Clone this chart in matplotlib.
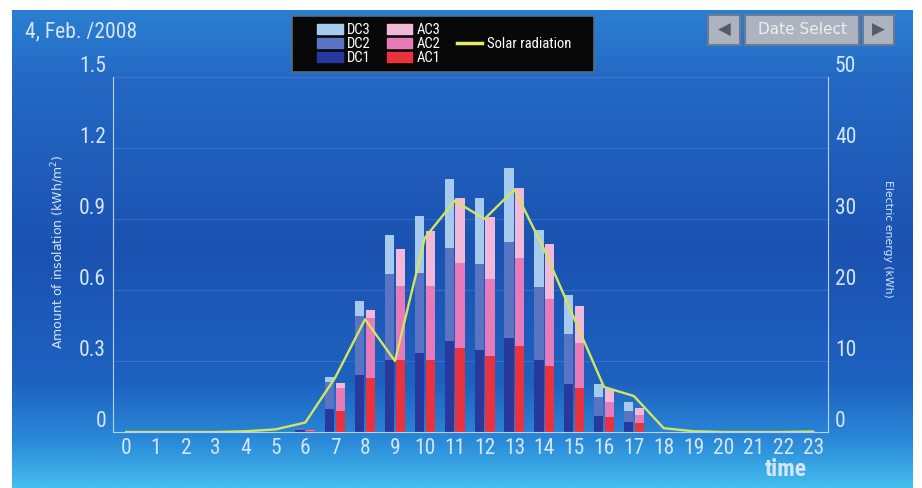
import numpy as np
import matplotlib
matplotlib.use('Agg')
import matplotlib.pyplot as plt
from matplotlib.colors import LinearSegmentedColormap
from matplotlib.patches import Patch, Rectangle
from matplotlib.lines import Line2D
from matplotlib.transforms import ScaledTranslation

# hourly data, 4 Feb 2008
hours = list(range(24))
solar = [0, 0, 0, 0, 0.003, 0.011, 0.04, 0.23, 0.476, 0.30, 0.82, 0.977,
         0.90, 1.025, 0.77, 0.48, 0.19, 0.152, 0.016, 0.003, 0, 0, 0, 0.002]
dc1 = [0, 0, 0, 0, 0, 0, 0.3, 3.3, 8.0, 10.2, 11.1, 12.8,
       11.6, 13.2, 10.1, 6.8, 2.3, 1.45, 0, 0, 0, 0, 0, 0]
dc2 = [0, 0, 0, 0, 0, 0, 0.2, 3.75, 8.3, 12.0, 11.35, 13.05,
       12.0, 13.5, 10.3, 7.0, 2.7, 1.55, 0, 0, 0, 0, 0, 0]
dc3 = [0, 0, 0, 0, 0, 0, 0, 0.7, 2.1, 5.6, 8.0, 9.75,
       9.3, 10.5, 8.1, 5.5, 1.75, 1.2, 0, 0, 0, 0, 0, 0]
ac1 = [0, 0, 0, 0, 0, 0, 0.1, 3.0, 7.6, 10.2, 10.2, 11.9,
       10.7, 12.1, 9.3, 6.15, 2.05, 1.2, 0, 0, 0, 0, 0, 0]
ac2 = [0, 0, 0, 0, 0, 0, 0.2, 3.15, 8.45, 10.3, 10.3, 11.9,
       10.9, 12.35, 9.5, 6.4, 2.2, 1.15, 0, 0, 0, 0, 0, 0]
ac3 = [0, 0, 0, 0, 0, 0, 0, 0.8, 1.1, 5.3, 7.75, 9.15,
       8.7, 9.85, 7.65, 5.2, 1.75, 1.1, 0, 0, 0, 0, 0, 0]
left_ticks = [0, 0.3, 0.6, 0.9, 1.2, 1.5]
right_ticks = [0, 10, 20, 30, 40, 50]

dc_colors = ['#27399c', '#5874c2', '#a6cbef']
ac_colors = ['#e8333f', '#e77ab9', '#f2b8d8']
line_color = '#d2e562'
txt = '#d4e6f7'
narrow = ['Roboto Condensed', 'DejaVu Sans']

fig = plt.figure(figsize=(9.22, 4.88), dpi=100, facecolor='white')

# blue gradient panel behind everything
bg = fig.add_axes([12 / 922, 0, 900 / 922, 478 / 488])
cmap = LinearSegmentedColormap.from_list('panel', [
    (0.0, '#2b7fd2'), (0.15, '#2468c4'), (0.5, '#1b52b2'),
    (0.78, '#1e62c0'), (0.9, '#2a88d8'), (1.0, '#45bdee')])
bg.imshow(np.linspace(0, 1, 256)[:, None], aspect='auto', cmap=cmap,
          extent=[0, 1, 0, 1])
bg.set_axis_off()

ax = fig.add_axes([113 / 922, 56 / 488, 715 / 922, 355 / 488])
ax2 = ax.twinx()
ax.set_zorder(ax2.get_zorder() + 1)
ax.patch.set_visible(False)
ax2.patch.set_visible(False)

x = np.array(hours)
w = 0.31
off = 0.18
dc_bottom = np.zeros(24)
for vals, c in zip([dc1, dc2, dc3], dc_colors):
    ax2.bar(x - off, vals, width=w, bottom=dc_bottom, color=c, linewidth=0)
    dc_bottom += np.array(vals)
ac_bottom = np.zeros(24)
for vals, c in zip([ac1, ac2, ac3], ac_colors):
    ax2.bar(x + off, vals, width=w, bottom=ac_bottom, color=c, linewidth=0)
    ac_bottom += np.array(vals)

ax.plot(x, solar, color=line_color, lw=1.7)

ax.set_xlim(-0.44, 23.5)
ax.set_ylim(0, 1.5)
ax2.set_ylim(0, 50)
ax.set_xticks(hours)
ax.set_xticklabels([str(h) for h in hours])
ax.set_yticks(left_ticks)
ax.set_yticklabels(['0' if t == 0 else f'{t:.1f}' for t in left_ticks])
ax2.set_yticks(right_ticks)
ax2.set_yticklabels([str(t) for t in right_ticks])

ax2.set_axisbelow(True)
ax2.grid(True, color='#6f9be0', alpha=0.3, lw=0.8)
ax2.set_xticks(hours)
ax2.xaxis.grid(True)
ax2.tick_params(axis='x', length=0, labelbottom=False)

for a in (ax, ax2):
    a.tick_params(length=0, colors=txt)
    for s in a.spines.values():
        s.set_visible(False)
ax.spines['left'].set_visible(True)
ax.spines['left'].set_color('#b8d2ee')
ax.spines['bottom'].set_visible(True)
ax.spines['bottom'].set_color('#b8d2ee')
ax2.spines['right'].set_visible(True)
ax2.spines['right'].set_color('#b8d2ee')

ax.tick_params(axis='x', pad=4, labelsize=15.5)
ax.tick_params(axis='y', pad=5, labelsize=15.5)
ax2.tick_params(axis='y', pad=5, labelsize=15.5)
shift = ScaledTranslation(0, 0.13, fig.dpi_scale_trans)
for lbl in ax.get_xticklabels() + ax.get_yticklabels() + ax2.get_yticklabels():
    lbl.set_family(narrow)
for lbl in ax.get_yticklabels() + ax2.get_yticklabels():
    lbl.set_transform(lbl.get_transform() + shift)

fig.text(58 / 922, 1 - 252 / 488, 'Amount of insolation (kWh/m$^2$)', color=txt,
         fontsize=9, rotation=90, ha='center', va='center')
fig.text(888 / 922, 1 - 239 / 488, 'Electric energy (kWh)', color=txt,
         fontsize=7.8, rotation=270, ha='center', va='center')

fig.text(25 / 922, 1 - 32 / 488, '4, Feb. /2008', color=txt, fontsize=15.5,
         family=narrow, va='center', ha='left')
fig.text(786 / 922, 1 - 470 / 488, 'time', color=txt, fontsize=17,
         family=narrow, fontweight='bold', va='center', ha='center')

# legend box
fig.patches.append(Rectangle((292 / 922, 1 - 72 / 488), 302 / 922, 56 / 488,
                             transform=fig.transFigure, facecolor='#080808',
                             edgecolor='#5a6a80', lw=1.2, zorder=5))
handles = [Patch(color=dc_colors[2]), Patch(color=dc_colors[1]), Patch(color=dc_colors[0]),
           Patch(color=ac_colors[2]), Patch(color=ac_colors[1]), Patch(color=ac_colors[0]),
           Patch(alpha=0), Line2D([], [], color='#e6ea6a', lw=2.5), Patch(alpha=0)]
labels = ['DC3', 'DC2', 'DC1', 'AC3', 'AC2', 'AC1', '', 'Solar radiation', '']
leg = fig.legend(handles, labels, ncol=3, loc='center',
                 bbox_to_anchor=(444 / 922, 1 - 44 / 488),
                 frameon=False, labelcolor='white',
                 prop={'family': narrow, 'size': 10.5},
                 handlelength=1.75, handleheight=0.65, handletextpad=0.3,
                 columnspacing=1.1, labelspacing=0.0, borderpad=0.2)
leg.set_zorder(6)

# date select buttons
for x0, x1, label in [(708, 740, '\u25C0'), (745, 859, 'Date Select'), (863, 894, '\u25B6')]:
    fig.patches.append(Rectangle((x0 / 922, 1 - 45 / 488), (x1 - x0) / 922, 30 / 488,
                                 transform=fig.transFigure, facecolor='#adb3bf',
                                 edgecolor='#6c7a92', lw=1.5))
    is_arrow = label != 'Date Select'
    fig.text((x0 + x1) / 2 / 922, 1 - 30 / 488, label,
             color='#555c68' if is_arrow else '#eceef3',
             fontsize=12 if is_arrow else 11, ha='center', va='center')

fig.savefig('out.png', dpi=100, facecolor=fig.get_facecolor())
